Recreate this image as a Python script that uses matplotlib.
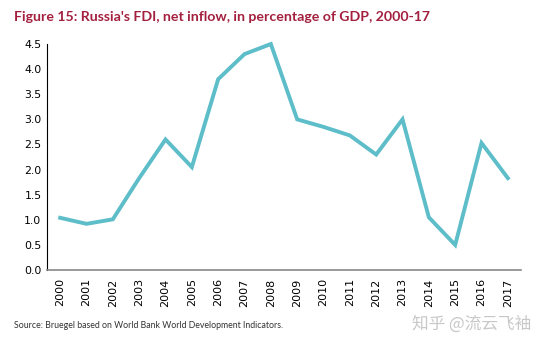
import matplotlib.pyplot as plt

# Russia FDI net inflow, % of GDP
years = [str(y) for y in range(2000, 2018)]
fdi = [1.04, 0.92, 1.01, 1.83, 2.60, 2.05, 3.80, 4.30, 4.50, 3.00,
       2.85, 2.68, 2.30, 3.00, 1.05, 0.50, 2.53, 1.83]
yticks = [0.0, 0.5, 1.0, 1.5, 2.0, 2.5, 3.0, 3.5, 4.0, 4.5]

plt.rcParams['font.family'] = ['DejaVu Sans', 'Noto Sans CJK SC']

fig = plt.figure(figsize=(5.51, 3.44), dpi=100)
ax = fig.add_axes([0.0853, 0.215, 0.8603, 0.657])

x = range(len(years))
ax.plot(x, fdi, color='#5dbdc9', linewidth=2.8, solid_joinstyle='miter', clip_on=False)

ax.set_xlim(-0.5, len(years) - 0.5)
ax.set_ylim(0, 4.5)
ax.set_yticks(yticks)
ax.set_yticklabels([f"{v:.1f}" for v in yticks], fontsize=7.8)
ax.set_xticks(list(x))
ax.set_xticklabels(years, rotation=90, fontsize=8)
ax.tick_params(axis='both', length=0, pad=4)
ax.tick_params(axis='x', pad=6)

for s in ['top', 'right']:
    ax.spines[s].set_visible(False)
ax.spines['left'].set_color('black')
ax.spines['left'].set_linewidth(0.8)
ax.spines['bottom'].set_color('#888888')
ax.spines['bottom'].set_linewidth(1.2)

fig.text(0.025, 0.95, "Figure 15: Russia's FDI, net inflow, in percentage of GDP, 2000-17",
         fontsize=10.2, fontweight='bold', color='#a3203f', va='center',
         family=['Lato', 'DejaVu Sans'])
fig.text(0.025, 0.055, "Source: Bruegel based on World Bank World Development Indicators.",
         fontsize=6.3, color='#333333', va='center',
         family=['Lato', 'DejaVu Sans'])
fig.text(0.748, 0.058, "知乎 @流云飞袖", fontsize=12, color='#c8c8c8', va='center',
         family=['Noto Sans CJK SC', 'DejaVu Sans'])

fig.savefig('out.png', dpi=100)
